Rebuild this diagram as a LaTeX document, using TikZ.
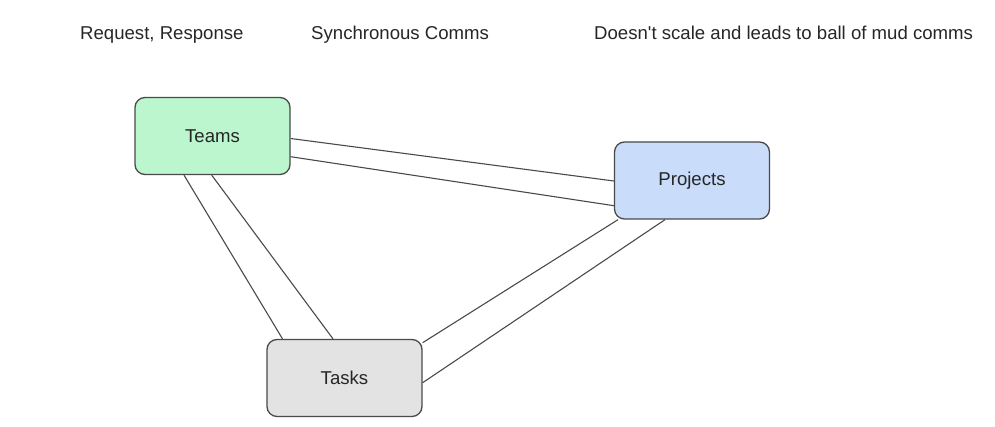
\documentclass[tikz,border=0pt]{standalone}
\usepackage{fontspec}
\setmainfont{Liberation Sans}
\usetikzlibrary{positioning}

\definecolor{teamsgreen}{HTML}{BBF6CE}
\definecolor{projectsblue}{HTML}{C9DCF9}
\definecolor{tasksgray}{HTML}{E3E3E3}
\definecolor{edgegray}{HTML}{4A4A4A}

\begin{document}
\begin{tikzpicture}[x = 1pt, y = -1pt,
    font = \fontsize{18.6}{22}\selectfont,
    service/.style = {draw = edgegray, line width = 1.3pt, rounded corners = 10pt,
      minimum width = 155pt, minimum height = 77pt, text = black!85},
    comms/.style = {draw = edgegray, line width = 1.1pt},
    caption/.style = {anchor = base west, inner sep = 0pt, text = black!85}]
  \useasboundingbox (0,0) rectangle (995,427);
  \node[caption] (req) at (80,40) {Request, Response};
  \node[caption] (sync) at (311,40) {Synchronous Comms};
  \node[caption] (mud) at (594,40) {Doesn\textquotesingle t scale and leads to ball of mud comms};
  \node[service, fill = teamsgreen] (teams) at (212.5,136) {Teams};
  \node[service, fill = projectsblue] (projects) at (692,180.5) {Projects};
  \node[service, fill = tasksgray] (tasks) at (344.5,378) {Tasks};
  \draw[comms] ([yshift = -2.5pt]teams.east) -- ([yshift = -0.5pt]projects.west);
  \draw[comms] ([yshift = -20.7pt]teams.east) -- ([yshift = -25.2pt]projects.west);
  \draw[comms] ([xshift = -28.5pt]teams.south) -- ([xshift = -62pt]tasks.north);
  \draw[comms] ([xshift = -0.8pt]teams.south) -- ([xshift = -11.5pt]tasks.north);
  \draw[comms] ([xshift = -74pt]projects.south) -- ([yshift = 35.3pt]tasks.east);
  \draw[comms] ([xshift = -27pt]projects.south) -- ([yshift = -4.7pt]tasks.east);
\end{tikzpicture}
\end{document}
